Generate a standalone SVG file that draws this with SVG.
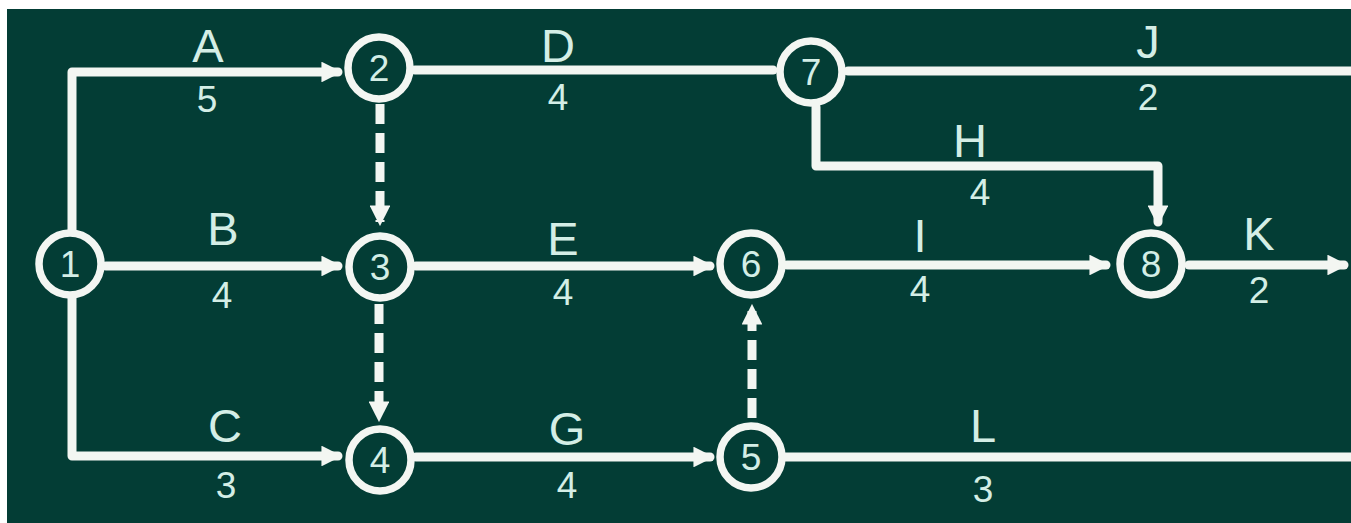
<svg xmlns="http://www.w3.org/2000/svg" width="1351" height="523" viewBox="0 0 1351 523">
<defs>
<style>
.bg{fill:#033d35}
.ln{fill:none;stroke:#f3f6f2;stroke-width:9;stroke-linecap:round;stroke-linejoin:round}
.dash{stroke-dasharray:20 9;stroke-linecap:butt}
.nd{fill:#033d35;stroke:#f3f6f2;stroke-width:7.5}
.nt{font-family:"Liberation Sans",Arial,sans-serif;font-size:37px;fill:#d4eee6;text-anchor:middle}
.lt{font-family:"Liberation Sans",Arial,sans-serif;font-size:47px;fill:#d4eee6;text-anchor:middle}
.dt{font-family:"Liberation Sans",Arial,sans-serif;font-size:37px;fill:#d4eee6;text-anchor:middle}
</style>
<marker id="ah" viewBox="0 0 10 10" refX="8" refY="5" markerWidth="2.3" markerHeight="2.3" orient="auto" markerUnits="strokeWidth">
<path d="M0,0 L10,5 L0,10 z" fill="#f3f6f2"/>
</marker>
</defs>
<rect x="0" y="0" width="1351" height="523" fill="#ffffff"/>
<rect class="bg" x="7" y="9" width="1344" height="514"/>
<g id="connectors">
<path class="ln" d="M72,232 V72 H338" marker-end="url(#ah)"/>
<path class="ln" d="M72,298 V456 H338" marker-end="url(#ah)"/>
<path class="ln" d="M106,266 H338" marker-end="url(#ah)"/>
<path class="ln" d="M415,70 H773"/>
<path class="ln" d="M848,71 H1351"/>
<path class="ln" d="M816,107 V166 H1158 V222" marker-end="url(#ah)"/>
<path class="ln dash" d="M380,104 V222" marker-end="url(#ah)"/>
<path class="ln dash" d="M379,304 V418" marker-end="url(#ah)"/>
<path class="ln" d="M416,266 H710" marker-end="url(#ah)"/>
<path class="ln" d="M416,457 H710" marker-end="url(#ah)"/>
<path class="ln dash" d="M752,418 V308" marker-end="url(#ah)"/>
<path class="ln" d="M787,265 H1106" marker-end="url(#ah)"/>
<path class="ln" d="M1189,265 H1344" marker-end="url(#ah)"/>
<path class="ln" d="M785,457 H1351"/>
</g>
<g id="labels">
<text class="lt" x="208" y="62">A</text><text class="dt" x="207" y="112">5</text>
<text class="lt" x="558" y="62">D</text><text class="dt" x="558" y="110">4</text>
<text class="lt" x="1148" y="58">J</text><text class="dt" x="1148" y="110">2</text>
<text class="lt" x="970" y="157">H</text><text class="dt" x="980" y="205">4</text>
<text class="lt" x="223" y="245">B</text><text class="dt" x="222" y="308">4</text>
<text class="lt" x="563" y="255">E</text><text class="dt" x="563" y="305">4</text>
<text class="lt" x="920" y="252">I</text><text class="dt" x="920" y="302">4</text>
<text class="lt" x="1259" y="250">K</text><text class="dt" x="1259" y="303">2</text>
<text class="lt" x="225" y="442">C</text><text class="dt" x="226" y="498">3</text>
<text class="lt" x="567" y="445">G</text><text class="dt" x="567" y="498">4</text>
<text class="lt" x="983" y="442">L</text><text class="dt" x="983" y="502">3</text>
</g>
<g id="n1"><circle class="nd" cx="70" cy="264" r="31"/><text class="nt" x="70" y="277">1</text></g>
<g id="n2"><circle class="nd" cx="379" cy="68" r="31"/><text class="nt" x="379" y="81">2</text></g>
<g id="n3"><circle class="nd" cx="380" cy="267" r="31"/><text class="nt" x="380" y="280">3</text></g>
<g id="n4"><circle class="nd" cx="380" cy="460" r="31"/><text class="nt" x="380" y="473">4</text></g>
<g id="n5"><circle class="nd" cx="751" cy="457" r="31"/><text class="nt" x="751" y="470">5</text></g>
<g id="n6"><circle class="nd" cx="751" cy="264" r="31"/><text class="nt" x="751" y="277">6</text></g>
<g id="n7"><circle class="nd" cx="811" cy="72" r="31"/><text class="nt" x="811" y="85">7</text></g>
<g id="n8"><circle class="nd" cx="1151" cy="264" r="31"/><text class="nt" x="1151" y="277">8</text></g>
</svg>
